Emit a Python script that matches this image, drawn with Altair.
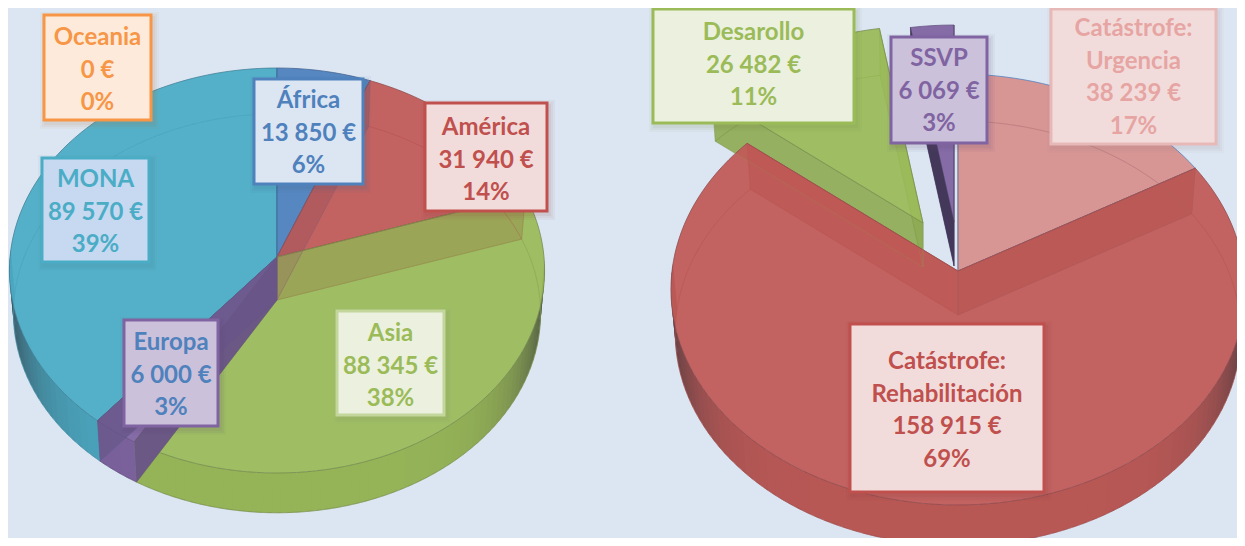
import math
import altair as alt

# ---------- values ----------
left_names = ["África", "América", "Asia", "Europa", "MONA", "Oceania"]
left_values = [13850, 31940, 88345, 6000, 89570, 0]
left_percent = [6, 14, 38, 3, 39, 0]
right_names = ["Catástrofe: Urgencia", "Catástrofe: Rehabilitación", "Desarollo", "SSVP"]
right_values = [38239, 158915, 26482, 6069]
right_percent = [17, 69, 11, 3]

# ---------- styles and layout (reference pixels) ----------
BG = "#DCE6F2"
left_colors = ["#4F81BD", "#C15A57", "#9BBB59", "#8064A2", "#4BACC6", "#F79646"]
left_draw_order = [4, 0, 1, 2, 3]
left_wall_alpha = [0.12, 0.18, 0.1, 0.72, 0.1, 0]
left_wall_dark = [0.1, 0.1, 0.2, 0.22, 0.1, 0.1]
right_colors = ["#D78F8D", "#C05A57", "#9BBB59", "#8064A2"]
right_draw_order = [0, 2, 3, 1]
right_wall_alpha = [0.06, 0.25, 0.0, 0.95]
right_wall_dark = [0.3, 0.06, 0.1, 0.6]
right_shift = [(0, 0), (0, 0), (-35, -48), (-4, -49)]
left_pie = dict(cx=277, cy=257, A=267, B=201.6, k=0.0667, depth=43)
right_pie = dict(cx=958, cy=271, A=286, B=213.9, k=0.0858, depth=44)
BOTTOM_SCALE = 0.985

# box: x0, x1, y0, y1, fill, border, text colour, lines, first line y
labels = [
    (44, 151, 15, 120, "#FDEADA", "#F79646", "#F79646", ["Oceania", "0 €", "0%"], 38),
    (254, 363, 79, 184, "#DCE6F2", "#4F81BD", "#4F81BD", ["África", "13 850 €", "6%"], 101),
    (425, 547, 103, 211, "#F2DCDB", "#C0504D", "#C0504D", ["América", "31 940 €", "14%"], 128),
    (42, 149, 158, 262, "#C6D9F1", "#4BACC6", "#4BACC6", ["MONA", "89 570 €", "39%"], 180),
    (124, 218, 320, 426, "#CCC1DA", "#8064A2", "#4F81BD", ["Europa", "6 000 €", "3%"], 343),
    (337, 444, 311, 415, "#EBF1DE", "#C3D69B", "#9BBB59", ["Asia", "88 345 €", "38%"], 334),
    (653, 854, 9, 123, "#EBF1DE", "#9BBB59", "#9BBB59", ["Desarollo", "26 482 €", "11%"], 33),
    (891, 987, 37, 143, "#CCC1DA", "#8064A2", "#8064A2", ["SSVP", "6 069 €", "3%"], 59),
    (1051, 1216, 9, 144, "#F2DCDB", "#E6B9B8", "#E6A5A3", ["Catástrofe:", "Urgencia", "38 239 €", "17%"], 29),
    (850, 1044, 324, 492, "#F2DCDB", "#C0504D", "#C0504D", ["Catástrofe:", "Rehabilitación", "158 915 €", "69%"], 362),
]
LINE_STEP = 32.5
OFFSET = 8  # page margin


def hex_rgb(c):
    return tuple(int(c[i:i + 2], 16) for i in (1, 3, 5))


def mix(c, other, f):
    a, b = hex_rgb(c), hex_rgb(other)
    return "#%02x%02x%02x" % tuple(round(x + (y - x) * f) for x, y in zip(a, b))


def point(p, deg, lower=False, shift=(0, 0)):
    t = math.radians(deg)
    X, Z = math.sin(t), math.cos(t)
    s = 1 / (1 + p["k"] * Z)
    f = BOTTOM_SCALE if lower else 1
    return [p["cx"] + shift[0] + p["A"] * X * s * f,
            p["cy"] + shift[1] + (p["depth"] if lower else 0) - p["B"] * Z * s * f]


def apex(p, lower=False, shift=(0, 0)):
    return [p["cx"] + shift[0], p["cy"] + shift[1] + (p["depth"] if lower else 0)]


def arc(p, a, b, lower=False, shift=(0, 0)):
    n = max(2, int((b - a) / 2) + 1)
    return [point(p, a + (b - a) * i / (n - 1), lower, shift) for i in range(n)]


features = []


def poly(coords, fill="none", fo=0.0, stroke="none", so=0.0, sw=0.0):
    ring = coords + [coords[0]]
    features.append({"type": "Feature",
                     "geometry": {"type": "Polygon", "coordinates": [ring]},
                     "properties": {"fill": fill, "fo": fo, "stroke": stroke, "so": so, "sw": sw}})


def line(coords, stroke, so=0.8, sw=0.8):
    poly(coords + coords[::-1][1:-1], stroke=stroke, so=so, sw=sw)


def draw_pie(p, values, colors, order, walls, wall_dark, shifts=None):
    total = sum(values)
    shifts = shifts or [(0, 0)] * len(values)
    spans, cur = [], 0.0
    for v in values:
        spans.append((cur, cur + 360 * v / total))
        cur += 360 * v / total
    for i in order:
        a, b = spans[i]
        col, sh = colors[i], shifts[i]
        dark = mix(col, "#2a2a3a", 0.35)
        # radial walls underneath the top face
        under = mix(col, "#1a1a2a", wall_dark[i])
        for e in (a, b):
            poly([apex(p, False, sh), point(p, e, False, sh), point(p, e, True, sh), apex(p, True, sh)],
                 fill=under, fo=0.92, stroke=dark, so=0.5, sw=0.7)
        # outer rim, shaded towards the silhouette; strips overlap so no seams show
        for d0 in range(int(a), int(b) + 1, 2):
            s0, s1 = max(a, d0), min(b, d0 + 2)
            if s1 <= s0:
                continue
            mid = math.radians((s0 + s1) / 2)
            if math.cos(mid) > 0.0:
                continue
            shade = 0.06 + 0.66 * abs(math.sin(mid)) ** 7
            c = mix(col, "#33333a", shade)
            e1 = min(b, s1 + 1)
            q = [point(p, s0, False, sh), point(p, e1, False, sh),
                 point(p, e1, True, sh), point(p, s0, True, sh)]
            poly(q, fill=c, fo=1)
        line(arc(p, a, b, True, sh), dark, 0.4, 0.7)
        # top face
        edge = "#4F81BD" if col == "#D78F8D" else dark
        poly([apex(p, False, sh)] + arc(p, a, b, False, sh), fill=col, fo=0.94, stroke=edge, so=0.85, sw=0.9)
    # radial walls and inner lines, seen through the top faces
    for i in order:
        a, b = spans[i]
        if b - a < 0.01:
            continue
        col, sh = colors[i], shifts[i]
        over = mix(col, "#1a1a2a", wall_dark[i])
        for e in (a, b):
            wall = [apex(p, False, sh), point(p, e, False, sh), point(p, e, True, sh), apex(p, True, sh)]
            poly(wall, fill=over, fo=walls[i], stroke=over, so=0.35, sw=0.7)
        line(arc(p, a, b, True, sh), over, 0.3, 0.7)


draw_pie(right_pie, right_values, right_colors, right_draw_order, right_wall_alpha, right_wall_dark, right_shift)
draw_pie(left_pie, left_values, left_colors, left_draw_order, left_wall_alpha, left_wall_dark)

texts = []
for x0, x1, y0, y1, fill, border, tcol, lines, first in labels:
    for grow, fo in ((6, 0.05), (4, 0.06), (2, 0.07)):
        poly([[x0 + 2 - grow, y0 + 3 - grow], [x1 + 2 + grow, y0 + 3 - grow],
              [x1 + 2 + grow, y1 + 3 + grow], [x0 + 2 - grow, y1 + 3 + grow]],
             fill=mix(border, "#202020", 0.35), fo=fo)
    poly([[x0, y0], [x1, y0], [x1, y1], [x0, y1]], fill=fill, fo=1, stroke=border, so=1, sw=3)
    for j, s in enumerate(lines):
        texts.append({"x": (x0 + x1) / 2 - OFFSET, "y": first + j * LINE_STEP - OFFSET, "t": s, "c": tcol})

shapes = alt.Chart(
    alt.InlineData(values={"type": "FeatureCollection", "features": features},
                   format=alt.DataFormat(property="features", type="json"))
).mark_geoshape().encode(
    fill=alt.Fill("properties.fill:N", scale=None),
    fillOpacity=alt.FillOpacity("properties.fo:Q", scale=None),
    stroke=alt.Stroke("properties.stroke:N", scale=None),
    strokeOpacity=alt.StrokeOpacity("properties.so:Q", scale=None),
    strokeWidth=alt.StrokeWidth("properties.sw:Q", scale=None),
).project(type="identity", scale=1, translate=[-OFFSET, -OFFSET])

words = alt.Chart(alt.Data(values=texts)).mark_text(
    font="Lato", fontWeight="bold", fontSize=24, align="center", baseline="middle"
).encode(
    x=alt.X("x:Q", scale=None, axis=None),
    y=alt.Y("y:Q", scale=None, axis=None),
    text="t:N",
    color=alt.Color("c:N", scale=None),
)

chart = alt.layer(shapes, words).properties(
    width=1229, height=530, background=BG, padding=0, autosize=alt.AutoSizeParams(type="none")
).configure_view(stroke=None)

chart.save("out.html", embed_options={"renderer": "svg", "actions": False})
